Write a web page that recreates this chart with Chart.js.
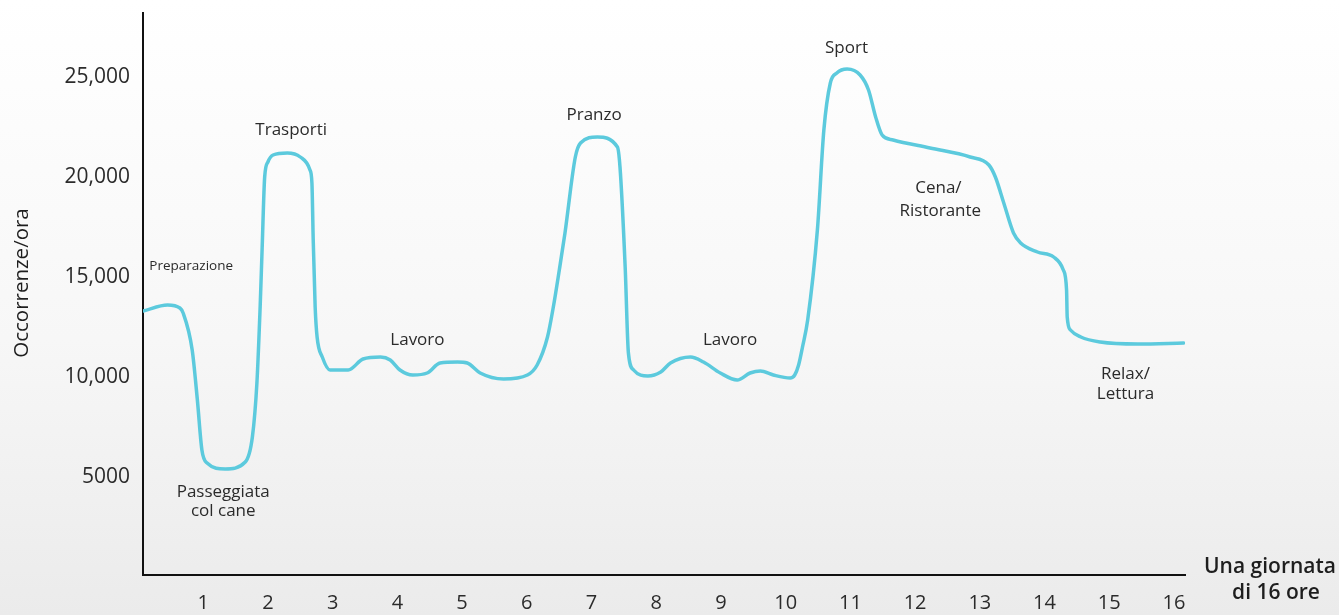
<!DOCTYPE html>
<html>
<head>
<meta charset="utf-8">
<script src="https://cdn.jsdelivr.net/npm/chart.js@4"></script>
<style>
  html, body { margin:0; padding:0; }
  body { width:1339px; height:615px; background: linear-gradient(to bottom, #ffffff 0%, #f7f7f7 55%, #ebebeb 100%); }
  canvas { display:block; }
</style>
</head>
<body>
<canvas id="c" width="1339" height="615"></canvas>
<script>
// Hours of the day (x) and occurrences per hour (y)
const hours = [0.07,0.45,0.64,0.69,0.83,0.91,0.98,1.06,1.34,1.65,1.76,1.83,1.88,1.91,1.95,2.00,2.08,2.30,2.50,2.65,2.68,2.70,2.73,2.76,2.84,2.96,3.24,3.47,3.74,3.89,4.04,4.24,4.46,4.66,4.93,5.08,5.28,5.64,6.01,6.16,6.32,6.41,6.50,6.59,6.75,6.83,7.09,7.40,7.44,7.52,7.57,7.65,7.87,8.07,8.22,8.53,8.73,8.99,9.25,9.45,9.61,9.81,10.07,10.14,10.20,10.26,10.34,10.49,10.59,10.69,10.79,10.95,11.15,11.28,11.39,11.49,11.66,12.23,12.85,13.14,13.24,13.37,13.52,13.63,13.89,14.14,14.29,14.34,14.35,14.40,14.56,14.86,15.44,16.15];
const occurrences = [13300,13600,13450,13200,11350,8850,6350,5700,5400,5750,7000,9700,13500,16350,20000,20750,21100,21200,21000,20350,19700,16850,13500,12000,11000,10350,10350,10900,11000,10850,10350,10100,10200,10700,10750,10700,10200,9900,10100,10600,12000,13500,15300,17200,21000,21700,22000,21500,20500,15500,11200,10350,10050,10250,10700,11000,10750,10200,9850,10200,10300,10100,9950,10100,10600,11500,12850,17350,22350,24700,25200,25400,25100,24350,23000,22100,21850,21450,21000,20600,20000,18700,17200,16700,16250,16000,15350,14350,13000,12350,12000,11750,11650,11700];

const xTicks = [1,2,3,4,5,6,7,8,9,10,11,12,13,14,15,16];
const yTicks = [5000,10000,15000,20000,25000];
const yTickLabels = ['5000','10,000','15,000','20,000','25,000'];

// Activity labels (text, anchor hour, anchor value)
const labelTexts  = ['Preparazione','Passeggiata','col cane','Trasporti','Lavoro','Pranzo','Lavoro','Sport','Cena/','Ristorante','Relax/','Lettura'];
const labelHours  = [0.815,1.31,1.31,2.36,4.31,7.04,9.14,10.94,12.36,12.39,15.25,15.25];
const labelValues = [15550,4250,3300,22350,11850,23100,11850,26450,19450,18300,10150,9150];

const FONT = '"Open Sans", "Noto Sans", sans-serif';

const textPlugin = {
  id: 'texts',
  afterDraw(chart) {
    const ctx = chart.ctx;
    const xs = chart.scales.x, ys = chart.scales.y;
    ctx.save();
    ctx.fillStyle = '#2b2b2b';
    ctx.textAlign = 'center';
    ctx.textBaseline = 'middle';
    labelTexts.forEach((t, i) => {
      ctx.font = (t === 'Preparazione' ? '13.5px ' : '17px ') + FONT;
      ctx.fillText(t, xs.getPixelForValue(labelHours[i]), ys.getPixelForValue(labelValues[i]));
    });
    // axis titles
    ctx.font = '600 21px ' + FONT;
    ctx.fillStyle = '#1e1e1e';
    ctx.fillText('Una giornata', 1270, 567);
    ctx.fillText('di 16 ore', 1276, 593);
    ctx.translate(22, 283);
    ctx.rotate(-Math.PI / 2);
    ctx.font = '500 20.5px ' + FONT;
    ctx.fillText('Occorrenze/ora', 0, 0);
    ctx.restore();
  }
};

new Chart(document.getElementById('c'), {
  type: 'line',
  data: {
    datasets: [{
      data: hours.map((h, i) => ({ x: h, y: occurrences[i] })),
      borderColor: '#5ccadd',
      borderWidth: 3.5,
      pointRadius: 0,
      fill: false,
      cubicInterpolationMode: 'monotone',
      borderCapStyle: 'round',
      borderJoinStyle: 'round'
    }]
  },
  options: {
    responsive: false,
    animation: false,
    layout: { padding: { top: 13, right: 154, left: 0, bottom: 0 } },
    plugins: { legend: { display: false }, tooltip: { enabled: false } },
    scales: {
      x: {
        type: 'linear',
        min: 0.07,
        max: 16.17,
        grid: { display: false, drawTicks: false },
        border: { display: true, color: '#111', width: 2 },
        afterBuildTicks: (axis) => { axis.ticks = xTicks.map(v => ({ value: v })); },
        afterFit: (axis) => { axis.height = 40; axis.paddingLeft = 0; axis.paddingRight = 0; },
        ticks: {
          autoSkip: false,
          maxRotation: 0,
          padding: 16,
          color: '#2b2b2b',
          font: { family: FONT, size: 20 },
          callback: (v) => String(v)
        }
      },
      y: {
        min: 100,
        max: 28200,
        grid: { display: false, drawTicks: false },
        border: { display: true, color: '#111', width: 2 },
        afterBuildTicks: (axis) => { axis.ticks = yTicks.map(v => ({ value: v })); },
        afterFit: (axis) => { axis.width = 143; axis.paddingTop = 0; axis.paddingBottom = 0; },
        ticks: {
          autoSkip: false,
          padding: 13,
          color: '#2b2b2b',
          font: { family: FONT, size: 21 },
          callback: (v) => { const i = yTicks.indexOf(v); return i >= 0 ? yTickLabels[i] : ''; }
        }
      }
    }
  },
  plugins: [textPlugin]
});
</script>
</body>
</html>
